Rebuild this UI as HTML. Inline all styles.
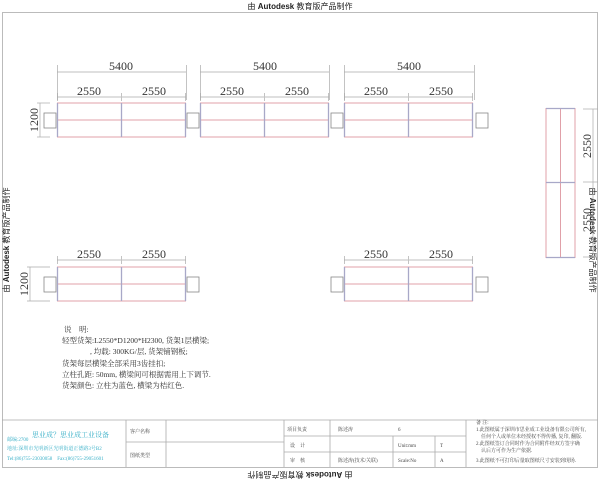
<!DOCTYPE html>
<html><head><meta charset="utf-8"><style>
html,body{margin:0;padding:0;background:#fff;width:600px;height:480px;overflow:hidden}
svg text{font-family:"Liberation Serif","Noto Serif CJK SC",serif}
.s{font-family:"Liberation Sans","Noto Sans CJK SC",sans-serif}
</style></head><body>
<svg width="600" height="480" viewBox="0 0 600 480" xmlns="http://www.w3.org/2000/svg">
<defs>
<g id="rack">
  <line x1="0" y1="0" x2="129" y2="0" stroke="#e0a0a8" stroke-width="1"/>
  <line x1="0" y1="17" x2="129" y2="17" stroke="#e0a0a8" stroke-width="1"/>
  <line x1="0" y1="34" x2="129" y2="34" stroke="#e0a0a8" stroke-width="1"/>
  <line x1="0.5" y1="0" x2="0.5" y2="34" stroke="#a8a8c8" stroke-width="1.3"/>
  <line x1="64.5" y1="0" x2="64.5" y2="34" stroke="#a8a8c8" stroke-width="1.3"/>
  <line x1="128.5" y1="0" x2="128.5" y2="34" stroke="#a8a8c8" stroke-width="1.3"/>
</g>
<g id="d2550">
  <line x1="0" y1="0" x2="64" y2="0" stroke="#aaa" stroke-width="0.7"/>
  <line x1="65" y1="0" x2="129" y2="0" stroke="#aaa" stroke-width="0.7"/>
  <line x1="0.5" y1="-4" x2="0.5" y2="4" stroke="#aaa" stroke-width="0.7"/>
  <line x1="64.5" y1="-4" x2="64.5" y2="4" stroke="#aaa" stroke-width="0.7"/>
  <line x1="128.5" y1="-4" x2="128.5" y2="4" stroke="#aaa" stroke-width="0.7"/>
  <text x="32" y="-2" font-size="12" text-anchor="middle" fill="#333">2550</text>
  <text x="97" y="-2" font-size="12" text-anchor="middle" fill="#333">2550</text>
</g>
<rect id="box" width="12" height="15" fill="#fff" stroke="#888" stroke-width="0.8"/>
</defs>

<text x="300" y="9" font-size="8" text-anchor="middle" class="s" fill="#222">由 <tspan font-weight="bold">Autodesk</tspan> 教育版产品制作</text>
<rect x="2.5" y="12.5" width="595" height="455" fill="none" stroke="#bbb" stroke-width="1"/>
<text transform="translate(9,240) rotate(-90)" font-size="8" text-anchor="middle" class="s" fill="#222">由 <tspan font-weight="bold">Autodesk</tspan> 教育版产品制作</text>
<text transform="translate(590,240) rotate(90)" font-size="8" text-anchor="middle" class="s" fill="#222">由 <tspan font-weight="bold">Autodesk</tspan> 教育版产品制作</text>
<text transform="translate(300,472) rotate(180)" font-size="8" text-anchor="middle" class="s" fill="#222">由 <tspan font-weight="bold">Autodesk</tspan> 教育版产品制作</text>

<!-- top row -->
<g>
  <use href="#rack" x="57" y="103"/><use href="#rack" x="200" y="103"/><use href="#rack" x="344" y="103"/>
  <use href="#box" x="44" y="113"/><use href="#box" x="187" y="113"/><use href="#box" x="331" y="113"/><use href="#box" x="476" y="113"/>
  <use href="#d2550" x="57" y="97"/><use href="#d2550" x="200" y="97"/><use href="#d2550" x="344" y="97"/>
  <g stroke="#aaa" stroke-width="0.7">
    <line x1="57" y1="72" x2="186" y2="72"/><line x1="57.5" y1="65" x2="57.5" y2="100"/><line x1="186.5" y1="65" x2="186.5" y2="100"/>
    <line x1="200" y1="72" x2="329" y2="72"/><line x1="200.5" y1="65" x2="200.5" y2="100"/><line x1="329.5" y1="65" x2="329.5" y2="100"/>
    <line x1="344" y1="72" x2="474" y2="72"/><line x1="344.5" y1="65" x2="344.5" y2="100"/><line x1="474.5" y1="65" x2="474.5" y2="100"/>
    <line x1="40" y1="103" x2="40" y2="137"/><line x1="37" y1="103" x2="50" y2="103"/><line x1="37" y1="137" x2="50" y2="137"/>
  </g>
  <text x="121" y="70" font-size="12" text-anchor="middle" fill="#333">5400</text>
  <text x="265" y="70" font-size="12" text-anchor="middle" fill="#333">5400</text>
  <text x="409" y="70" font-size="12" text-anchor="middle" fill="#333">5400</text>
  <text transform="translate(38,120) rotate(-90)" font-size="12" text-anchor="middle" fill="#333">1200</text>
</g>

<!-- bottom left -->
<use href="#rack" x="57" y="267"/><use href="#box" x="44" y="277"/><use href="#box" x="187" y="277"/>
<use href="#d2550" x="57" y="260"/>
<g stroke="#aaa" stroke-width="0.7"><line x1="30" y1="267" x2="30" y2="301"/><line x1="27" y1="267" x2="50" y2="267"/><line x1="27" y1="301" x2="50" y2="301"/></g>
<text transform="translate(28,284) rotate(-90)" font-size="12" text-anchor="middle" fill="#333">1200</text>

<!-- bottom right -->
<use href="#rack" x="344" y="267"/><use href="#box" x="331" y="277"/><use href="#box" x="476" y="277"/>
<use href="#d2550" x="344" y="260"/>

<!-- right vertical rack -->
<g>
  <line x1="546" y1="108" x2="546" y2="258" stroke="#e0a0a8"/>
  <line x1="560.5" y1="108" x2="560.5" y2="258" stroke="#e0a0a8"/>
  <line x1="575" y1="108" x2="575" y2="258" stroke="#e0a0a8"/>
  <line x1="546" y1="108.5" x2="575" y2="108.5" stroke="#a8a8c8" stroke-width="1.3"/>
  <line x1="546" y1="182.5" x2="575" y2="182.5" stroke="#a8a8c8" stroke-width="1.3"/>
  <line x1="546" y1="257.5" x2="575" y2="257.5" stroke="#a8a8c8" stroke-width="1.3"/>
  <g stroke="#aaa" stroke-width="0.7"><line x1="593" y1="109" x2="593" y2="257"/><line x1="583" y1="109" x2="598" y2="109"/><line x1="583" y1="182" x2="598" y2="182"/><line x1="583" y1="257" x2="598" y2="257"/></g>
  <text transform="translate(591,146) rotate(-90)" font-size="12" text-anchor="middle" fill="#333">2550</text>
  <text transform="translate(591,220) rotate(-90)" font-size="12" text-anchor="middle" fill="#333">2550</text>
</g>

<!-- notes -->
<g font-size="7.5" fill="#333" class="s">
<text x="64" y="332">说　明:</text>
<text x="62" y="343">轻型货架:L2550*D1200*H2300, 货架1层横梁;</text>
<text x="90" y="354">, 均载: 300KG/层, 货架铺钢板;</text>
<text x="62" y="366">货架每层横梁全部采用3齿挂扣;</text>
<text x="62" y="377">立柱孔距: 50mm, 横梁间可根据需用上下调节.</text>
<text x="62" y="388">货架颜色: 立柱为蓝色, 横梁为桔红色.</text>
</g>

<!-- title block -->
<g stroke="#aaa" stroke-width="0.8" fill="none">
<line x1="2" y1="420" x2="598" y2="420"/>
<line x1="126" y1="420" x2="126" y2="467"/>
<line x1="166" y1="420" x2="166" y2="467"/>
<line x1="284" y1="420" x2="284" y2="467"/>
<line x1="330" y1="420" x2="330" y2="467"/>
<line x1="393" y1="436" x2="393" y2="467"/>
<line x1="435" y1="436" x2="435" y2="467"/>
<line x1="466" y1="420" x2="466" y2="467"/>
<line x1="126" y1="442" x2="284" y2="442"/>
<line x1="284" y1="436" x2="466" y2="436"/>
<line x1="284" y1="452" x2="466" y2="452"/>
</g>
<g class="s" font-size="5" fill="#444">
<text x="32" y="437" font-size="7" fill="#3ab0c8">思业成？思业成工业设备</text>
<text x="7" y="441" fill="#3ab0c8">邮编:2700</text>
<text x="7" y="450" fill="#3ab0c8">地址:深圳市光明新区光明街道正德路3号B2</text>
<text x="7" y="460" fill="#3ab0c8">Tel:(86)755-23030058　Fax:(86)755-29051601</text>
<text x="130" y="433">客户名称</text>
<text x="130" y="457">图纸类型</text>
<text x="287" y="431">项目负责</text>
<text x="290" y="447">设　计</text>
<text x="290" y="462">审　核</text>
<text x="338" y="431">陈述涛</text>
<text x="338" y="462">陈述涛(技术/关联)</text>
<text x="398" y="431">6</text>
<text x="398" y="447">Unit:mm</text>
<text x="440" y="447">T</text>
<text x="398" y="462">Scale:No</text>
<text x="440" y="462">A</text>
<text x="476" y="424">备 注:</text>
<text x="476" y="431">1.此图纸属于深圳市思业成工业设备有限公司所有,</text>
<text x="481" y="438">任何个人或单位未经授权不得传播, 复印, 翻版.</text>
<text x="476" y="445">2.此图纸签订合同时作为合同附件经双方签字确</text>
<text x="481" y="452">认后方可作为生产依据.</text>
<text x="476" y="462">3.此图纸不可打印后量取图纸尺寸安装到现场.</text>
</g>
</svg>
</body></html>
